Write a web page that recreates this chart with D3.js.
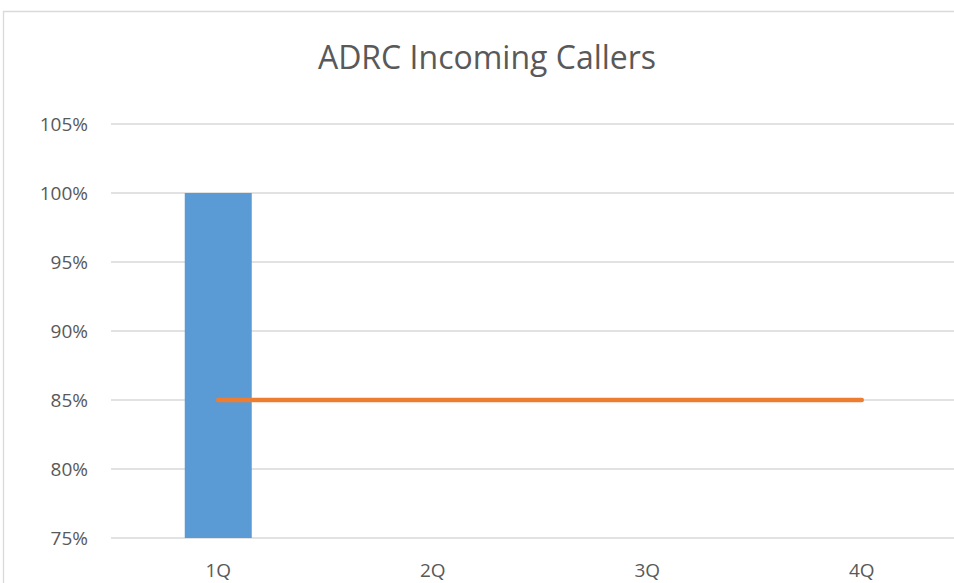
<!DOCTYPE html>
<html>
<head>
<meta charset="utf-8">
<script src="https://cdn.jsdelivr.net/npm/d3@7"></script>
<style>
  body { margin: 0; background: #fff; overflow: hidden; }
  svg { display: block; overflow: hidden; }
  text { font-family: "Open Sans", "Liberation Sans", sans-serif; fill: #595959; }
</style>
</head>
<body>
<div id="chart"></div>
<script>
// data
const quarters = ["1Q", "2Q", "3Q", "4Q"]
const callerPct = [1.00, null, null, null]
const targetPct = [0.85, 0.85, 0.85, 0.85]
const yTicks = [0.75, 0.80, 0.85, 0.90, 0.95, 1.00, 1.05]

const W = 954, H = 583
const margin = {top: 124, right: -15, bottom: 45, left: 111}
const width = W - margin.left - margin.right
const height = H - margin.top - margin.bottom

const svg = d3.select("#chart").append("svg")
    .attr("width", W)
    .attr("height", H)

// chart border, only top and left edges are inside the picture
svg.append("path")
    .attr("d", "M3.5," + H + "V11.5H" + W)
    .attr("fill", "none")
    .attr("stroke", "#d9d9d9")
    .attr("stroke-width", 1.3)

svg.append("text")
    .attr("x", 487).attr("y", 69)
    .attr("text-anchor", "middle")
    .style("font-size", "32px")
    .text("ADRC Incoming Callers")

const g = svg.append("g")
    .attr("transform", "translate(" + margin.left + "," + margin.top + ")")

let xc = d3.scaleBand().domain(quarters).range([0, width])
let y = d3.scaleLinear().domain([0.75, 1.05]).range([height, 0])

// gridlines
g.selectAll(".grid")
    .data(yTicks)
    .enter()
    .append("line")
        .attr("x1", 0).attr("x2", width)
        .attr("y1", d => y(d)).attr("y2", d => y(d))
        .attr("stroke", "#d9d9d9")
        .attr("stroke-width", 1.3)

// y labels
g.selectAll(".ylab")
    .data(yTicks)
    .enter()
    .append("text")
        .attr("x", -23)
        .attr("y", d => y(d))
        .attr("dy", "0.35em")
        .attr("text-anchor", "end")
        .style("font-size", "19px")
        .text(d => d3.format(".0%")(d))

// x labels
g.selectAll(".xlab")
    .data(quarters)
    .enter()
    .append("text")
        .attr("x", d => xc(d) + xc.bandwidth() / 2)
        .attr("y", height + 39)
        .attr("text-anchor", "middle")
        .style("font-size", "19px")
        .text(d => d)

// bars
const barData = quarters.map((q, i) => ({q: q, v: callerPct[i]})).filter(d => d.v != null)
g.selectAll(".bar")
    .data(barData)
    .enter()
    .append("rect")
        .attr("x", d => xc(d.q) + xc.bandwidth() / 2 - 33.5)
        .attr("width", 67)
        .attr("y", d => y(d.v))
        .attr("height", d => y(0.75) - y(d.v))
        .attr("fill", "#5b9bd5")

// target line
const line = d3.line()
    .x((d, i) => xc(quarters[i]) + xc.bandwidth() / 2)
    .y(d => y(d))

g.append("path")
    .datum(targetPct)
    .attr("d", line)
    .attr("fill", "none")
    .attr("stroke", "#ed7d31")
    .attr("stroke-width", 4.5)
    .attr("stroke-linecap", "round")
</script>
</body>
</html>
